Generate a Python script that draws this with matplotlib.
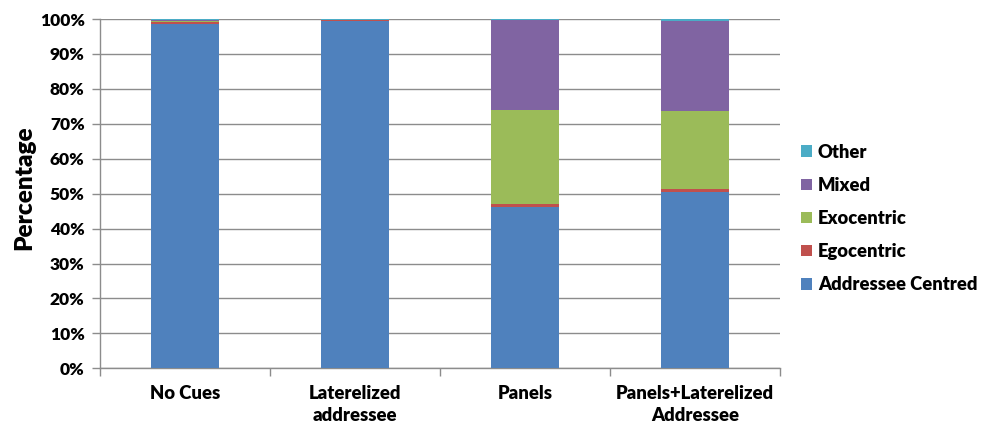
import matplotlib
matplotlib.use("Agg")
import matplotlib.pyplot as plt
import numpy as np
from matplotlib.ticker import FuncFormatter, FixedLocator, NullFormatter

categories = ["No Cues", "Laterelized\naddressee", "Panels", "Panels+Laterelized\nAddressee"]
series_names = ["Addressee Centred", "Egocentric", "Exocentric", "Mixed", "Other"]
addressee_centred = [98.6, 99.5, 46.1, 50.6]
egocentric = [0.6, 0.2, 0.9, 0.8]
exocentric = [0.1, 0.0, 26.9, 22.2]
mixed = [0.3, 0.0, 25.8, 25.8]
other = [0.4, 0.3, 0.3, 0.6]
colors = ["#4F81BD", "#C0504D", "#9BBB59", "#8064A2", "#4BACC6"]

W = "heavy"
plt.rcParams["font.family"] = ["Lato", "DejaVu Sans"]
plt.rcParams["font.weight"] = W

fig = plt.figure(figsize=(9.88, 4.26), dpi=100)
ax = fig.add_axes([100 / 988, 1 - 368.3 / 426, 680 / 988, (368.3 - 19) / 426])

x = np.arange(len(categories))
bottom = np.zeros(len(categories))
handles = []
for name, vals, c in zip(series_names, [addressee_centred, egocentric, exocentric, mixed, other], colors):
    b = ax.bar(x, vals, width=0.4, bottom=bottom, color=c, label=name, zorder=3)
    handles.append(b)
    bottom += np.array(vals)

ax.set_xlim(-0.5, len(categories) - 0.5)
ax.set_ylim(0, 100)
ax.set_yticks(np.arange(0, 101, 10))
ax.yaxis.set_major_formatter(FuncFormatter(lambda v, p: f"{int(v)}%"))
ax.grid(axis="y", color="#8c8c8c", linewidth=1.0, zorder=0)

ax.set_xticks(x)
ax.set_xticklabels(categories, fontsize=13.3, fontweight=W, linespacing=1.35)
ax.tick_params(axis="x", which="major", length=0, pad=12)
ax.xaxis.set_minor_locator(FixedLocator(np.arange(-0.5, len(categories), 1.0)))
ax.xaxis.set_minor_formatter(NullFormatter())
ax.tick_params(axis="x", which="minor", length=6, color="#8c8c8c", width=1)
ax.tick_params(axis="y", length=6, color="#8c8c8c", width=1, labelsize=12.5, pad=5)
for lab in ax.get_yticklabels():
    lab.set_fontweight(W)

for s in ["top", "right"]:
    ax.spines[s].set_visible(False)
for s in ["left", "bottom"]:
    ax.spines[s].set_color("#8c8c8c")
    ax.spines[s].set_linewidth(1)

ax.set_ylabel("Percentage", fontsize=17.5, fontweight=W, va="center")
ax.yaxis.set_label_coords(-0.112, 0.518)

leg = fig.legend(handles[::-1], series_names[::-1], loc="center left",
                 bbox_to_anchor=(784 / 988, 1 - 218.5 / 426), frameon=False,
                 fontsize=13.2, handlelength=0.6, handleheight=0.6,
                 handletextpad=0.35, labelspacing=0.88)
for t in leg.get_texts():
    t.set_fontweight(W)

fig.savefig("out.png", dpi=100)
